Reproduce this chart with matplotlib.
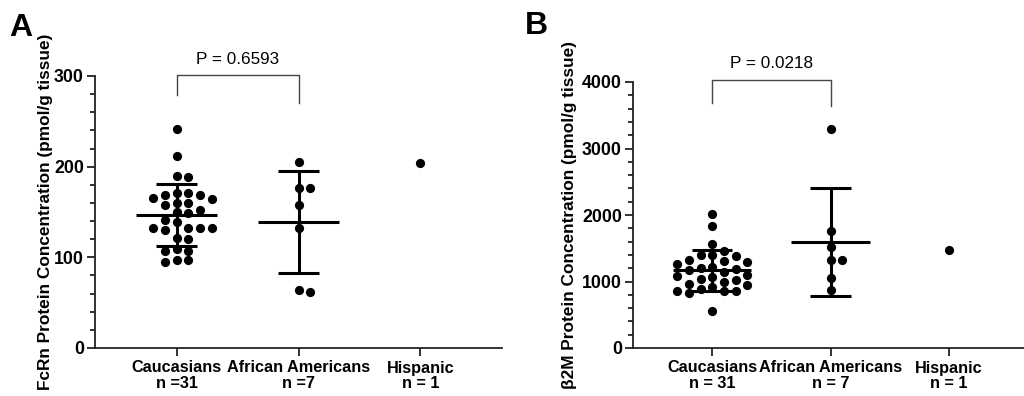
import numpy as np
import matplotlib
matplotlib.use("Agg")
from matplotlib import pyplot as plt

plt.rcParams['font.family'] = ['Liberation Sans', 'DejaVu Sans']

groups = ["Caucasians\nn =31", "African Americans\nn =7", "Hispanic\nn = 1"]
groups_b = ["Caucasians\nn = 31", "African Americans\nn = 7", "Hispanic\nn = 1"]

# panel A - FcRn (pmol/g tissue)
fcrn_cauc = [242, 212, 189, 190, 169, 169, 171, 165, 171, 164, 158, 160, 160, 152,
             149, 150, 141, 139, 132, 132, 132, 130, 132, 121, 120, 107, 107, 109,
             95, 97, 97]
fcrn_aa = [205, 176, 176, 158, 132, 62, 64]
fcrn_hisp = [204]

# panel B - b2M (pmol/g tissue)
b2m_cauc = [2020, 1830, 1560, 1460, 1380, 1400, 1400, 1310, 1300, 1330, 1220, 1210,
            1270, 1180, 1190, 1100, 1070, 1090, 1040, 1000, 1020, 960, 940, 910, 880,
            860, 860, 820, 850, 1140, 550]
b2m_aa = [3300, 1760, 1520, 1320, 1320, 1060, 870]
b2m_hisp = [1480]


def swarm(ax, xc, vals, dot_px=9):
    # simple beeswarm: place sorted points, shift sideways until no overlap
    bbox = ax.get_window_extent()
    x0, x1 = ax.get_xlim()
    y0, y1 = ax.get_ylim()
    sx = bbox.width / (x1 - x0)
    sy = bbox.height / (y1 - y0)
    placed = []
    order = np.argsort(vals)[::-1]
    out = np.zeros(len(vals))
    for i in order:
        py = vals[i] * sy
        best, best_d = 0, -1
        for k in [0, 1, -1, 2, -2, 3, -3]:
            px = k * dot_px * 1.3
            d = min([np.hypot(px - qx, py - qy) for qx, qy in placed] + [99])
            if d >= dot_px:
                best = px
                break
            if d > best_d:
                best, best_d = px, d
        placed.append((best, py))
        out[i] = xc + best / sx
    ax.scatter(out, vals, s=44, color="black", zorder=3, linewidths=0)


def mean_sd(ax, xc, vals):
    m = np.mean(vals)
    sd = np.std(vals, ddof=1)
    kw = dict(color="black", lw=2.2, zorder=4, solid_capstyle="butt")
    ax.plot([xc - 0.33, xc + 0.33], [m, m], **kw)
    ax.plot([xc, xc], [m - sd, m + sd], **kw)
    for y in (m - sd, m + sd):
        ax.plot([xc - 0.17, xc + 0.17], [y, y], **kw)


def style(ax, labels, ymax, major, minor, ylabel, lab_x):
    ax.set_xlim(-0.67, 2.67)
    ax.set_ylim(0, ymax)
    ax.spines[['top', 'right']].set_visible(False)
    for s in ('left', 'bottom'):
        ax.spines[s].set_linewidth(1.3)
        ax.spines[s].set_color("#222222")
    ax.set_xticks([0, 1, 2])
    ax.set_xticklabels(labels, fontsize=11.7, fontweight="bold", linespacing=1.05)
    ax.set_yticks(np.arange(0, ymax + 1, major))
    ax.set_yticks(np.arange(0, ymax + 1, minor), minor=True)
    ax.tick_params(axis='both', which='major', length=6, width=1.3, color="#222222")
    ax.tick_params(axis='y', which='minor', length=3.5, width=1.3, color="#222222")
    ax.tick_params(axis='x', pad=3)
    ax.tick_params(axis='y', pad=2)
    for t in ax.get_yticklabels():
        t.set_fontsize(12.8)
        t.set_fontweight("bold")
    ax.set_ylabel(ylabel, fontsize=12.4, fontweight="bold")
    ax.yaxis.set_label_coords(lab_x, 0.5)


def bracket(ax, x1, x2, ytop, yl, yr, text, ty):
    ax.plot([x1, x1, x2, x2], [yl, ytop, ytop, yr], color="#444444", lw=1, clip_on=False)
    ax.text((x1 + x2) / 2, ty, text, ha="center", va="bottom", fontsize=12.3, clip_on=False)


fig = plt.figure(figsize=(10.24, 3.96), dpi=100)
axA = fig.add_axes([95 / 1024, 48 / 396, 407 / 1024, 272 / 396])
axB = fig.add_axes([633 / 1024, 48 / 396, 395 / 1024, 266 / 396])

style(axA, groups, 300, 100, 20, "FcRn Protein Concentration (pmol/g tissue)", -0.103)
style(axB, groups_b, 4000, 1000, 200, "β2M Protein Concentration (pmol/g tissue)", -0.142)

for ax, data in ((axA, [fcrn_cauc, fcrn_aa, fcrn_hisp]), (axB, [b2m_cauc, b2m_aa, b2m_hisp])):
    for i, vals in enumerate(data):
        vals = np.array(vals, dtype=float)
        swarm(ax, i, vals)
        if len(vals) > 1:
            mean_sd(ax, i, vals)

bracket(axA, 0, 1, 301, 279, 270, "P = 0.6593", 310)
bracket(axB, 0, 1, 4030, 3680, 3640, "P = 0.0218", 4170)

fig.text(9 / 1024, 1 - 36 / 396, "A", fontsize=23, fontweight="bold")
fig.text(525 / 1024, 1 - 34 / 396, "B", fontsize=23, fontweight="bold")

fig.savefig("out.png", dpi=100)
